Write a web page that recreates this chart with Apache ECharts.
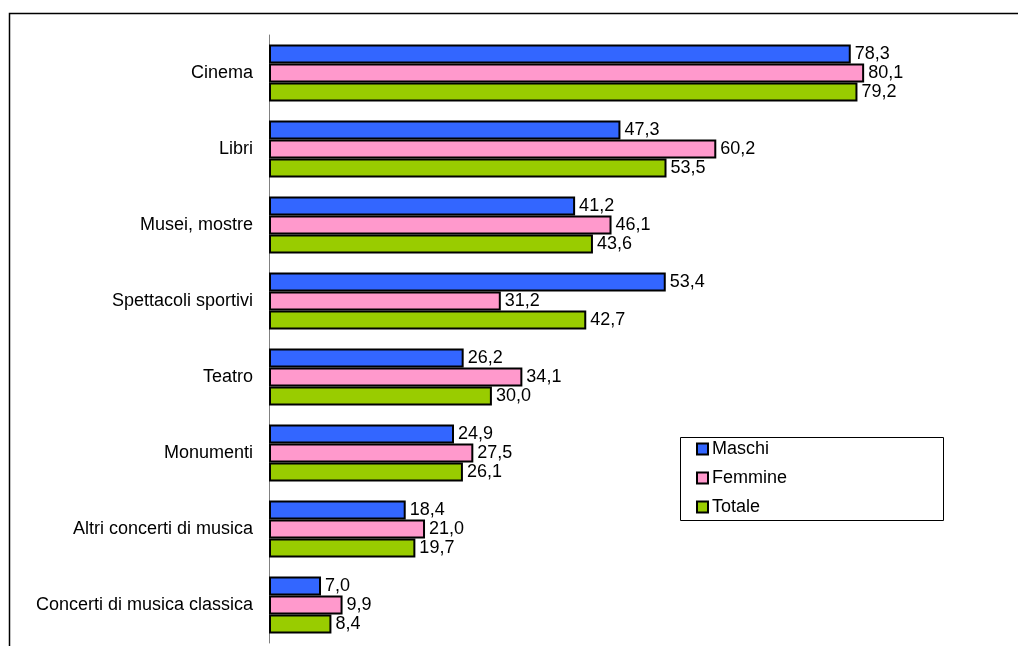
<!DOCTYPE html>
<html>
<head>
<meta charset="utf-8">
<script src="https://cdn.jsdelivr.net/npm/echarts@6/dist/echarts.min.js"></script>
<style>
html,body{margin:0;padding:0;background:#fff;}
#chart{width:1018px;height:646px;}
</style>
</head>
<body>
<div id="chart"></div>
<script>
// Attività culturali: quote per sesso
const categories = ['Cinema', 'Libri', 'Musei, mostre', 'Spettacoli sportivi', 'Teatro', 'Monumenti', 'Altri concerti di musica', 'Concerti di musica classica'];
const maschi  = [78.3, 47.3, 41.2, 53.4, 26.2, 24.9, 18.4, 7.0];
const femmine = [80.1, 60.2, 46.1, 31.2, 34.1, 27.5, 21.0, 9.9];
const totale  = [79.2, 53.5, 43.6, 42.7, 30.0, 26.1, 19.7, 8.4];
const seriesNames = ['Maschi', 'Femmine', 'Totale'];
const seriesColors = ['#3366FF', '#FF99CC', '#99CC00'];

const font = 'Arial, "Liberation Sans", sans-serif';
const fmt = p => p.value.toFixed(1).replace('.', ',');

function makeSeries(name, data, color) {
  return {
    name: name,
    type: 'bar',
    data: data,
    barGap: '0%',
    barCategoryGap: '25%',
    itemStyle: { color: color, borderColor: '#000', borderWidth: 2 },
    label: {
      show: true, position: 'right', distance: 4,
      formatter: fmt, color: '#000', fontSize: 18, fontFamily: font
    },
    emphasis: { disabled: true }
  };
}

const chart = echarts.init(document.getElementById('chart'));
chart.setOption({
  animation: false,
  backgroundColor: '#fff',
  grid: { left: 269, right: 6, top: 35, bottom: 3, containLabel: false },
  xAxis: {
    type: 'value', min: 0, max: 100,
    axisLine: { show: false }, axisTick: { show: false },
    axisLabel: { show: false }, splitLine: { show: false }
  },
  yAxis: {
    type: 'category', data: categories, inverse: true,
    axisLine: { show: true, lineStyle: { color: '#808080', width: 1 } },
    axisTick: { show: false },
    axisLabel: { color: '#000', fontSize: 18, fontFamily: font, margin: 16 }
  },
  legend: {
    orient: 'vertical', left: 691, top: 435,
    itemWidth: 11, itemHeight: 11, itemGap: 11,
    icon: 'rect',
    textStyle: { color: '#000', fontSize: 18, fontFamily: font, padding: [0, 0, 0, -1] },
    data: seriesNames
  },
  graphic: [
    { type: 'rect', shape: { x: 680.5, y: 437.5, width: 263, height: 83 },
      style: { fill: 'none', stroke: '#000', lineWidth: 1 }, z: -1 },
    { type: 'polyline', shape: { points: [[9.5, 646], [9.5, 13.5], [1018, 13.5]] },
      style: { fill: 'none', stroke: '#000', lineWidth: 1.5 } }
  ],
  series: [
    makeSeries(seriesNames[0], maschi, seriesColors[0]),
    makeSeries(seriesNames[1], femmine, seriesColors[1]),
    makeSeries(seriesNames[2], totale, seriesColors[2])
  ]
});
</script>
</body>
</html>
